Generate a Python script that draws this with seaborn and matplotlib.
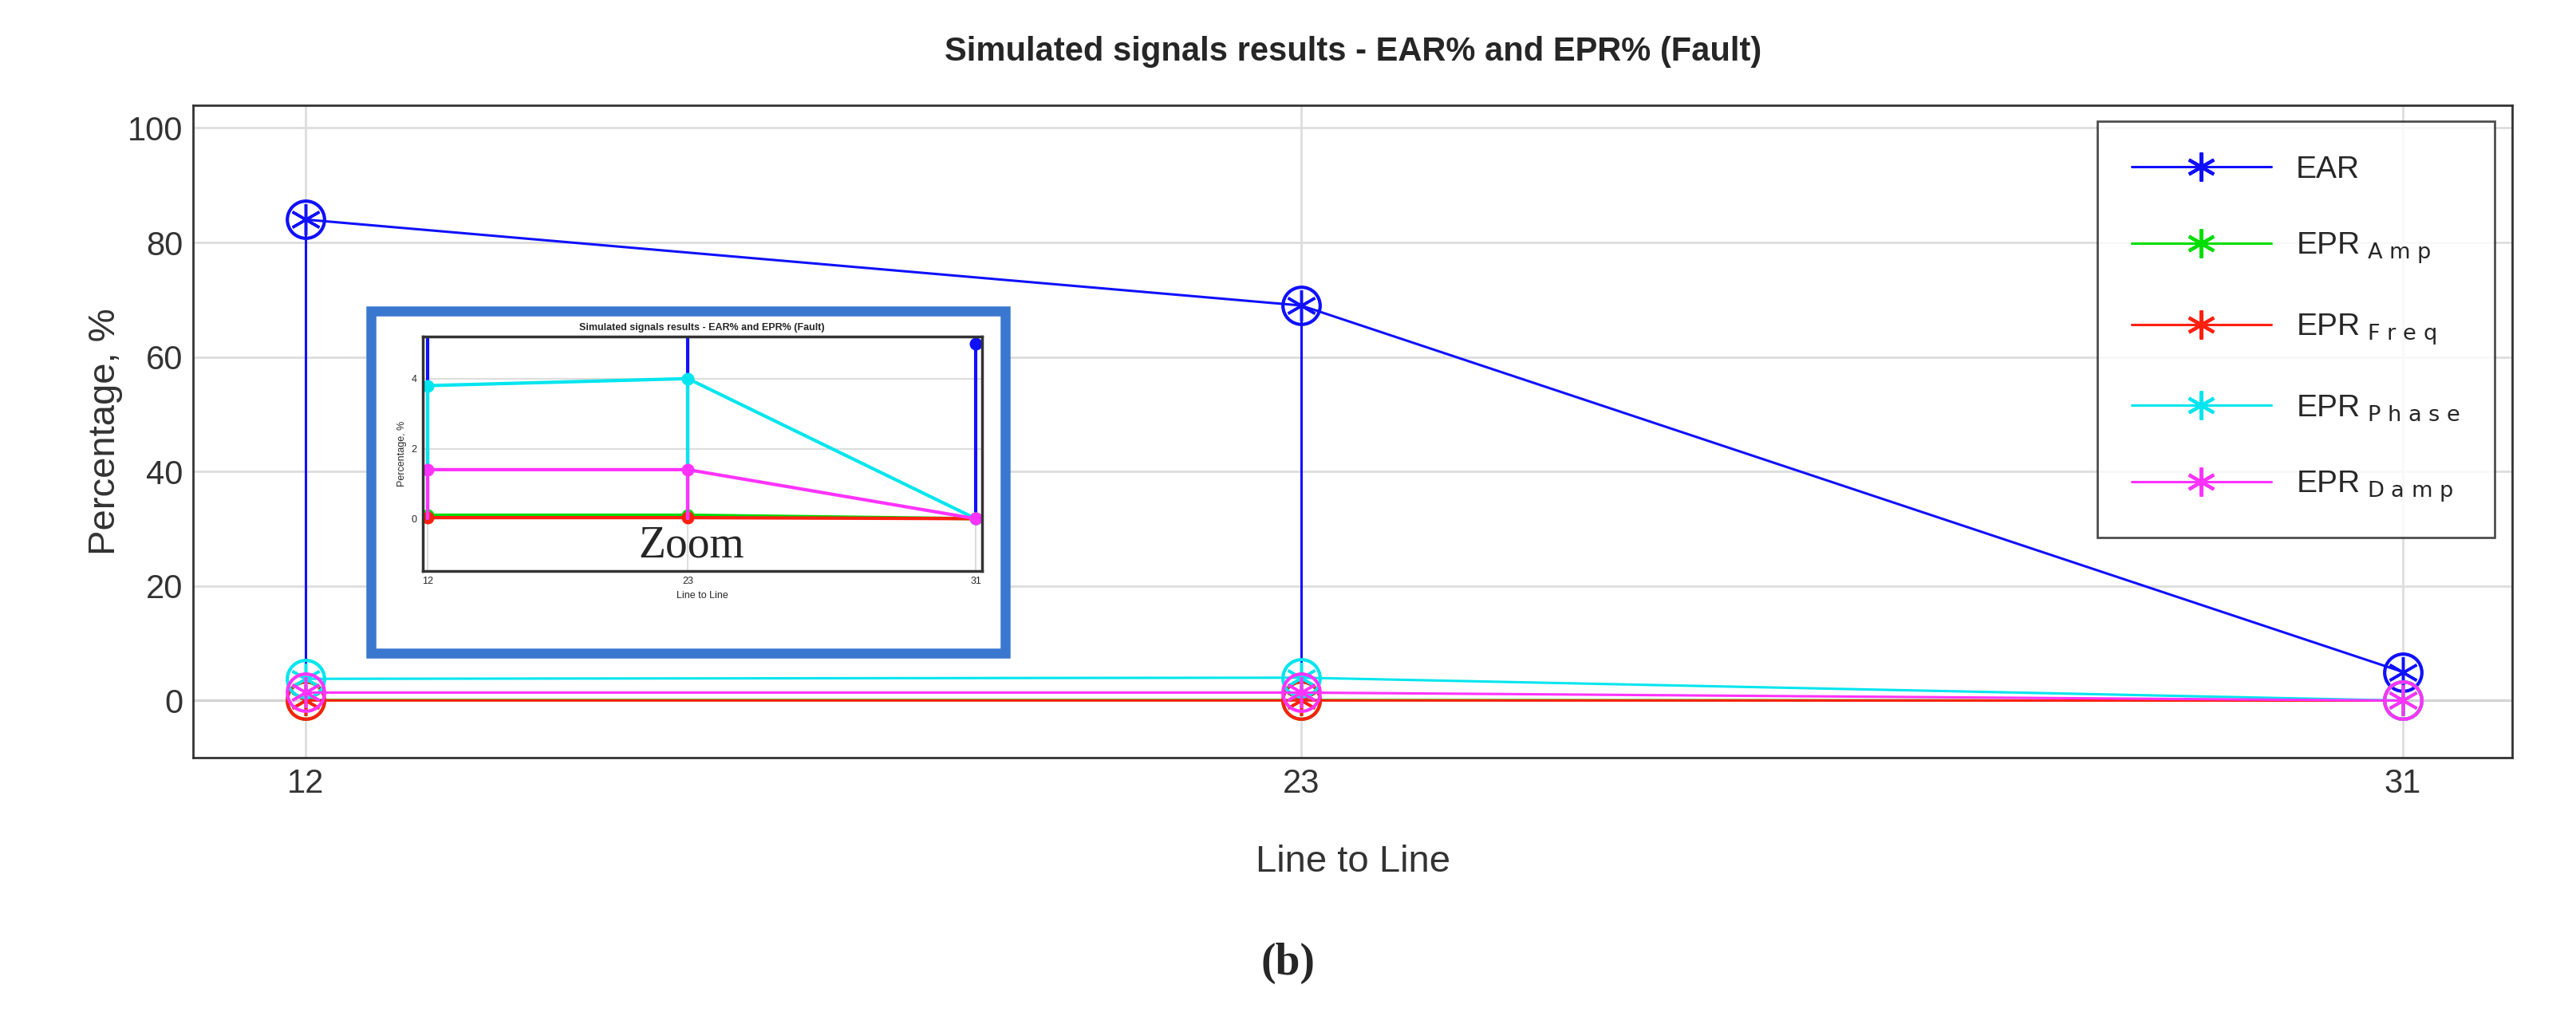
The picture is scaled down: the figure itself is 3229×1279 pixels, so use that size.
import matplotlib
matplotlib.use("Agg")
import matplotlib.pyplot as plt
import seaborn as sns
from matplotlib.patches import FancyBboxPatch

sns.set_theme(style="whitegrid")
plt.rcParams['font.family'] = ['Liberation Sans', 'DejaVu Sans']

categories = ["12", "23", "31"]
xpos = [1.0, 2.0, 3.107]
ear = [84.0, 69.0, 5.0]
epr_amp = [0.1, 0.1, 0.0]
epr_freq = [0.03, 0.03, 0.0]
epr_phase = [3.8, 4.0, 0.0]
epr_damp = [1.4, 1.4, 0.0]

series = [
    ("EAR", ear, "#1010ff"),
    ("EPR$_{\\ \\mathrm{A\\ m\\ p}}$", epr_amp, "#00dd00"),
    ("EPR$_{\\ \\mathrm{F\\ r\\ e\\ q}}$", epr_freq, "#ff2010"),
    ("EPR$_{\\ \\mathrm{P\\ h\\ a\\ s\\ e}}$", epr_phase, "#00e5ee"),
    ("EPR$_{\\ \\mathrm{D\\ a\\ m\\ p}}$", epr_damp, "#ff33ff"),
]
AST = (6, 2, 0)

fig = plt.figure(figsize=(32.3, 12.79), dpi=100)
ax = fig.add_axes([0.075, 0.257, 0.9, 0.64])

def draw(axis, lw, ms, big, mk):
    for name, vals, col in series:
        sns.lineplot(x=xpos, y=vals, ax=axis, color=col, lw=lw, marker=mk,
                     markersize=ms, markeredgecolor=col, markeredgewidth=2.5,
                     label=name, legend=False)
        for x, v in zip(xpos, vals):
            axis.plot([x, x], [0, v], color=col, lw=lw)
            if big:
                axis.plot(x, v, 'o', mfc='none', mec=col, ms=ms * 1.2, mew=3)

draw(ax, 2.2, 28, True, AST)
ax.set_xlim(0.887, 3.217)
ax.set_ylim(-10, 104)
ax.set_xticks(xpos)
ax.set_xticklabels(categories)
ax.set_yticks([0, 20, 40, 60, 80, 100])
ax.axhline(0, color="#333333", lw=2, zorder=0)
ax.tick_params(labelsize=30, colors="#333333")
ax.set_xlabel("Line to Line", fontsize=34, color="#333333", labelpad=40)
ax.set_ylabel("Percentage, %", fontsize=34, color="#333333")
ax.set_title("Simulated signals results - EAR% and EPR% (Fault)", fontsize=30,
             fontweight="bold", pad=40)
for s in ax.spines.values():
    s.set_color("#333333"); s.set_linewidth(2)
ax.grid(color="#dddddd", lw=2)

handles = [plt.Line2D([], [], color=c, lw=2.2, marker=AST, markersize=26,
                      markeredgecolor=c, markeredgewidth=3) for _, _, c in series]
leg = ax.legend(handles, [n for n, _, _ in series], loc="upper right", fontsize=28,
                frameon=True, labelspacing=1.5, handlelength=4.5, borderpad=0.8,
                bbox_to_anchor=(0.995, 0.985))
leg.get_frame().set_edgecolor("#222222"); leg.get_frame().set_linewidth(2)
leg.get_frame().set_boxstyle("square")

frame = FancyBboxPatch((0.144, 0.36), 0.246, 0.335, boxstyle="square,pad=0",
                       transform=fig.transFigure, fill=True, facecolor="white",
                       edgecolor="#3a78d0", lw=9, zorder=5)
fig.patches.append(frame)
ins = fig.add_axes([0.164, 0.44, 0.217, 0.23])
ins.set_zorder(6)
draw(ins, 3, 9, False, 'o')
ins.set_xlim(0.98, 3.13)
ins.set_ylim(-1.5, 5.2)
ins.set_xticks(xpos); ins.set_xticklabels(categories)
ins.set_yticks([0, 2, 4])
ins.tick_params(labelsize=9, pad=2, length=3)
ins.set_xlabel("Line to Line", fontsize=9)
ins.set_ylabel("Percentage, %", fontsize=9)
ins.set_title("Simulated signals results - EAR% and EPR% (Fault)", fontsize=9,
              fontweight="bold")
ins.grid(color="#dddddd", lw=1.5)
for s in ins.spines.values():
    s.set_color("#333333"); s.set_linewidth(2.5)
ins.text(0.48, 0.06, "Zoom", transform=ins.transAxes, fontsize=40,
         family="Liberation Serif", ha="center")

fig.text(0.5, 0.045, "(b)", fontsize=40, family="Liberation Serif",
         fontweight="bold", ha="center")
fig.savefig("out.png", dpi=100)
